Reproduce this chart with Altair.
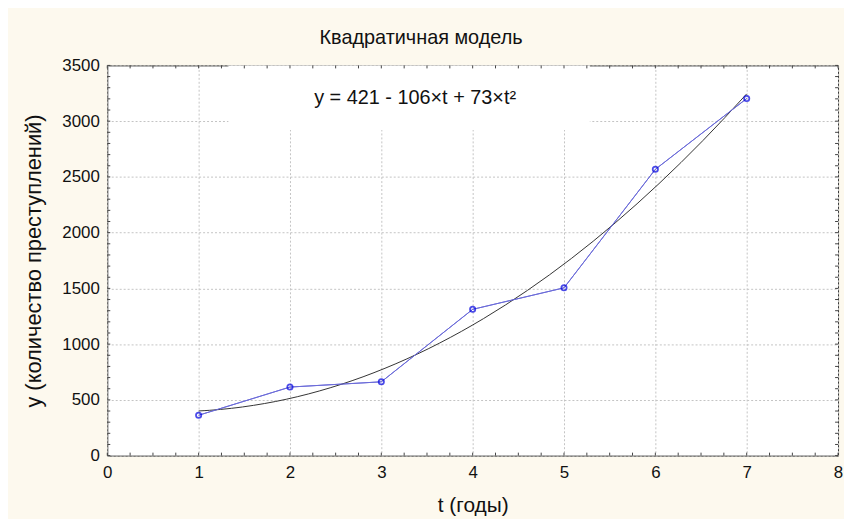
import altair as alt
import pandas as pd

# ---- data ----
t_years = [1, 2, 3, 4, 5, 6, 7]
crimes = [362, 615, 662, 1312, 1505, 2568, 3203]

x_ticks = [0, 1, 2, 3, 4, 5, 6, 7, 8]
y_ticks = [0, 500, 1000, 1500, 2000, 2500, 3000, 3500]
x_minor = [i / 4 for i in range(0, 33)]
y_minor = list(range(0, 3501, 100))

chart_title = "Квадратичная модель"
x_title = "t (годы)"
y_title = "y (количество преступлений)"
equation_label = "y = 421 - 106×t + 73×t²"

W, H = 736, 393
FONT = "Liberation Sans, Arial, sans-serif"
BG = "#fdf9ee"

df = pd.DataFrame({"t": t_years, "y": crimes})
xm = pd.DataFrame({"v": x_minor})
ym = pd.DataFrame({"v": y_minor})

xscale = alt.Scale(domain=[0, 8], nice=False, zero=False)
yscale = alt.Scale(domain=[0, 3500], nice=False)

grid_axis_x = alt.Axis(values=x_ticks, grid=True, gridColor="#c4c4c4", gridDash=[2, 2],
                       gridWidth=1, ticks=False, domain=False, labelFontSize=17,
                       labelFont=FONT, labelColor="#111", labelPadding=9,
                       labelFlush=False, labelBound=False,
                       title=x_title, titleFont=FONT, titleFontSize=21,
                       titleFontWeight="normal", titleColor="#111", titlePadding=14,
                       format="d")
grid_axis_y = alt.Axis(values=y_ticks, grid=True, gridColor="#c4c4c4", gridDash=[2, 2],
                       gridWidth=1, ticks=False, domain=False, labelFontSize=17,
                       labelFont=FONT, labelColor="#111", labelPadding=8,
                       labelFlush=False,
                       title=y_title, titleFont=FONT, titleFontSize=22,
                       titleFontWeight="normal", titleColor="#111", titlePadding=16,
                       format="d")

base = alt.Chart(df)

blue_line = base.mark_line(color="#6b6bd9", strokeWidth=1).encode(
    x=alt.X("t:Q", scale=xscale, axis=grid_axis_x),
    y=alt.Y("y:Q", scale=yscale, axis=grid_axis_y),
)

# white box behind the equation (covers gridlines like the reference)
label_box = alt.Chart(pd.DataFrame({"a": [0]})).mark_rect(color="white").encode(
    x=alt.value(122), x2=alt.value(486), y=alt.value(0), y2=alt.value(65)
)

fit_curve = base.transform_regression("t", "y", method="poly", order=2).mark_line(
    color="#333333", strokeWidth=1
).encode(x="t:Q", y="y:Q")

points = base.mark_point(shape="circle", filled=False, size=28, color="#0000e0",
                         strokeWidth=1.8).encode(x="t:Q", y="y:Q")

eq_text = alt.Chart(pd.DataFrame({"label": [equation_label]})).mark_text(
    fontSize=20, font=FONT, color="#111", align="center", baseline="middle"
).encode(x=alt.value(310), y=alt.value(33), text="label:N")

tick_col = "#444"
bottom_minor = alt.Chart(xm).mark_rule(color=tick_col, strokeWidth=1).encode(
    x="v:Q", y=alt.value(H), y2=alt.value(H - 3))
top_minor = alt.Chart(xm).mark_rule(color=tick_col, strokeWidth=1).encode(
    x="v:Q", y=alt.value(0), y2=alt.value(3))
left_minor = alt.Chart(ym).mark_rule(color=tick_col, strokeWidth=1).encode(
    y="v:Q", x=alt.value(0), x2=alt.value(3))
right_minor = alt.Chart(ym).mark_rule(color=tick_col, strokeWidth=1).encode(
    y="v:Q", x=alt.value(W), x2=alt.value(W - 3))

chart = alt.layer(
    blue_line, label_box, eq_text, fit_curve, blue_line, points,
    bottom_minor, top_minor, left_minor, right_minor,
).properties(
    width=W, height=H,
    title=alt.TitleParams(chart_title, font=FONT, fontSize=20, fontWeight="normal",
                          color="#111", anchor="middle", dx=-52, offset=9),
    background=BG,
    padding={"left": 100, "top": 56, "right": 6, "bottom": 62},
    autosize=alt.AutoSizeParams(type="none"),
).configure_view(stroke="#333333", strokeWidth=1, fill="white")

chart.save("out.html", embed_options={"renderer": "svg", "actions": False})
